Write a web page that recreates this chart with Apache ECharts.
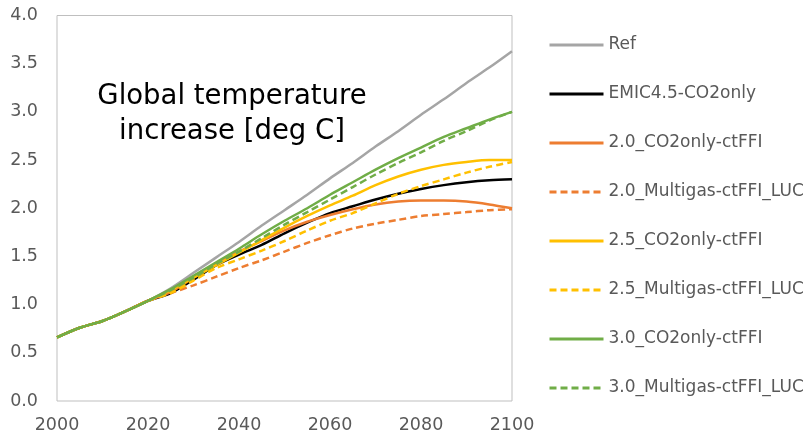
<!DOCTYPE html>
<html>
<head>
<meta charset="utf-8">
<script src="https://cdn.jsdelivr.net/npm/echarts@6/dist/echarts.min.js"></script>
<style>html,body{margin:0;padding:0;background:#fff;}#c{width:809px;height:439px;}</style>
</head>
<body>
<div id="c"></div>
<script>
var years = [2000,2005,2010,2015,2020,2025,2030,2035,2040,2045,2050,2055,2060,2065,2070,2075,2080,2085,2090,2095,2100];
var hist = [0.66,0.76,0.83,0.93,1.04];
var refVals      = hist.concat([1.17,1.33,1.49,1.65,1.82,1.98,2.14,2.31,2.47,2.64,2.80,2.97,3.13,3.30,3.46,3.63]);
var emicVals     = hist.concat([1.12,1.26,1.41,1.52,1.62,1.74,1.85,1.95,2.02,2.09,2.15,2.20,2.24,2.27,2.29,2.30]);
var co2_20Vals   = hist.concat([1.13,1.28,1.42,1.55,1.66,1.77,1.86,1.93,1.99,2.04,2.07,2.08,2.08,2.07,2.04,2.00]);
var multi_20Vals = hist.concat([1.12,1.20,1.29,1.38,1.46,1.55,1.64,1.72,1.79,1.84,1.88,1.92,1.94,1.96,1.98,1.99]);
var co2_25Vals   = hist.concat([1.15,1.28,1.41,1.54,1.67,1.80,1.92,2.03,2.13,2.24,2.33,2.40,2.45,2.48,2.50,2.50]);
var multi_25Vals = hist.concat([1.12,1.25,1.38,1.47,1.56,1.66,1.77,1.87,1.95,2.05,2.15,2.23,2.30,2.37,2.43,2.48]);
var co2_30Vals   = hist.concat([1.16,1.30,1.44,1.58,1.73,1.87,2.00,2.14,2.27,2.40,2.52,2.63,2.74,2.83,2.92,3.00]);
var multi_30Vals = hist.concat([1.15,1.28,1.42,1.55,1.69,1.83,1.96,2.09,2.22,2.35,2.47,2.58,2.70,2.80,2.91,3.00]);
var seriesNames = ['Ref','EMIC4.5-CO2only','2.0_CO2only-ctFFI','2.0_Multigas-ctFFI_LUC','2.5_CO2only-ctFFI','2.5_Multigas-ctFFI_LUC','3.0_CO2only-ctFFI','3.0_Multigas-ctFFI_LUC'];
var xTicks = [2000,2020,2040,2060,2080,2100];
var yTicks = [0,0.5,1,1.5,2,2.5,3,3.5,4];

var allVals = [refVals,emicVals,co2_20Vals,multi_20Vals,co2_25Vals,multi_25Vals,co2_30Vals,multi_30Vals];
var colors = ['#A5A5A5','#000000','#ED7D31','#ED7D31','#FFC000','#FFC000','#70AD47','#70AD47'];
var dashed = [false,false,false,true,false,true,false,true];
var FONT = 'DejaVu Sans';

function pairs(v){ return years.map(function(y,i){ return [y, v[i]]; }); }

var series = allVals.map(function(v,i){
  return {
    name: seriesNames[i], type: 'line', data: pairs(v), smooth: 0.3,
    symbol: 'none', showSymbol: false,
    lineStyle: {color: colors[i], width: 2.5, type: dashed[i] ? [7,4] : 'solid'},
    itemStyle: {color: colors[i]},
    z: 2 + i
  };
});

var chart = echarts.init(document.getElementById('c'), null, {renderer: 'canvas'});
chart.setOption({
  animation: false,
  textStyle: {fontFamily: FONT},
  grid: {left: 57, right: 297, top: 15.5, bottom: 38, show: true, borderColor: '#BFBFBF', borderWidth: 1},
  title: {
    text: 'Global temperature\nincrease [deg C]',
    left: 227, top: 74, textAlign: 'center',
    textStyle: {fontFamily: FONT, fontSize: 27.5, fontWeight: 'normal', color: '#000', lineHeight: 35}
  },
  legend: {
    orient: 'vertical', left: 543, top: 31.5, itemWidth: 54, itemHeight: 14, itemGap: 32,
    itemStyle: {opacity: 0},
    lineStyle: {width: 3},
    textStyle: {fontFamily: FONT, fontSize: 17, color: '#595959'},
    data: seriesNames
  },
  xAxis: {
    type: 'value', min: 2000, max: 2100, interval: 20,
    axisLine: {show: false}, axisTick: {show: false}, splitLine: {show: false},
    axisLabel: {fontFamily: FONT, fontSize: 17.5, color: '#595959', margin: 15,
      formatter: function(v){ return xTicks.indexOf(v) >= 0 ? String(v) : ''; }}
  },
  yAxis: {
    type: 'value', min: 0, max: 4, interval: 0.5,
    axisLine: {show: false}, axisTick: {show: false}, splitLine: {show: false},
    axisLabel: {fontFamily: FONT, fontSize: 17.5, color: '#595959', margin: 19,
      formatter: function(v){ return yTicks.indexOf(v) >= 0 ? v.toFixed(1) : ''; }}
  },
  series: series
});
</script>
</body>
</html>
